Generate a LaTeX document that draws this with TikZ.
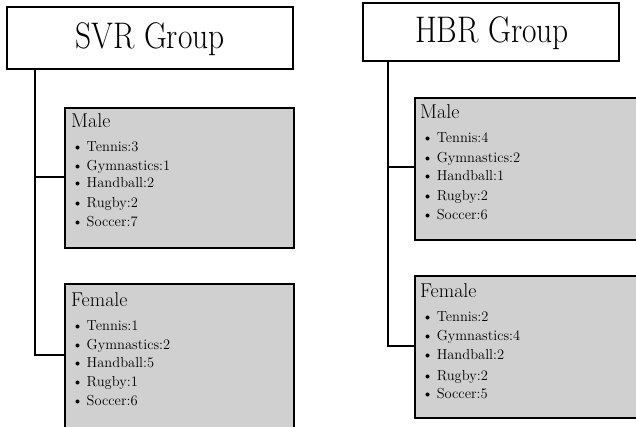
\documentclass[tikz,border=0pt]{standalone}
\usepackage{graphicx}
\begin{document}
\begin{tikzpicture}[x=1pt,y=-1pt,
  titlebox/.style={draw=black,line width=2.4pt,fill=white,inner sep=0pt},
  groupbox/.style={draw=black,line width=2pt,fill=boxgray,inner sep=0pt,anchor=north west},
  conn/.style={draw=black,line width=2pt},
  titletext/.style={inner sep=0pt,font=\fontsize{37}{37}\selectfont},
  headtext/.style={inner sep=0pt,anchor=base west,font=\fontsize{20}{20}\selectfont},
  itemtext/.style={inner sep=0pt,anchor=base west,font=\fontsize{14.5}{14.5}\selectfont}]
\definecolor{boxgray}{HTML}{D0D0D0}
\newcommand{\itm}[1]{\textbullet\hspace{3.5pt}#1}
\useasboundingbox (0,0) rectangle (636,426);
\clip (0,0) rectangle (636,426);
% ---------- SVR ----------
\node[titlebox,minimum width=286pt,minimum height=62pt] (svr) at (150,38) {};
\node[titletext] (svrt) at (150,39) {\scalebox{0.85}[1]{SVR Group}};
\node[groupbox,minimum width=229pt,minimum height=140pt] (sm) at (64,107) {};
\node[groupbox,minimum width=229pt,minimum height=160pt] (sf) at (64,283) {};
\draw[conn] ([xshift=29pt]svr.south west) |- ([yshift=-72pt]sf.north west);
\draw[conn] ([xshift=29pt]svr.south west |- 0,177) -- (sm.west |- 0,177);
\node[headtext] (smh) at (71,127) {Male};
\node[itemtext] (sm1) at (72,151) {\itm{Tennis:3}};
\node[itemtext] (sm2) at (72,170) {\itm{Gymnastics:1}};
\node[itemtext] (sm3) at (72,187) {\itm{Handball:2}};
\node[itemtext] (sm4) at (72,207) {\itm{Rugby:2}};
\node[itemtext] (sm5) at (72,226) {\itm{Soccer:7}};
\node[headtext] (sfh) at (71,306) {Female};
\node[itemtext] (sf1) at (72,330) {\itm{Tennis:1}};
\node[itemtext] (sf2) at (72,349) {\itm{Gymnastics:2}};
\node[itemtext] (sf3) at (72,367) {\itm{Handball:5}};
\node[itemtext] (sf4) at (72,386) {\itm{Rugby:1}};
\node[itemtext] (sf5) at (72,405) {\itm{Soccer:6}};
% ---------- HBR ----------
\node[titlebox,minimum width=256pt,minimum height=58pt] (hbr) at (491,32) {};
\node[titletext] (hbrt) at (492,33) {\scalebox{0.85}[1]{HBR Group}};
\node[groupbox,minimum width=240pt,minimum height=142pt] (hm) at (414,97) {};
\node[groupbox,minimum width=240pt,minimum height=142pt] (hf) at (414,275) {};
\draw[conn] ([xshift=26pt]hbr.south west) |- ([yshift=-71pt]hf.north west);
\draw[conn] ([xshift=26pt]hbr.south west |- 0,167) -- (hm.west |- 0,167);
\node[headtext] (hmh) at (420,118) {Male};
\node[itemtext] (hm1) at (422,142) {\itm{Tennis:4}};
\node[itemtext] (hm2) at (422,162) {\itm{Gymnastics:2}};
\node[itemtext] (hm3) at (422,180) {\itm{Handball:1}};
\node[itemtext] (hm4) at (422,200) {\itm{Rugby:2}};
\node[itemtext] (hm5) at (422,219) {\itm{Soccer:6}};
\node[headtext] (hfh) at (420,297) {Female};
\node[itemtext] (hf1) at (422,321) {\itm{Tennis:2}};
\node[itemtext] (hf2) at (422,340) {\itm{Gymnastics:4}};
\node[itemtext] (hf3) at (422,359) {\itm{Handball:2}};
\node[itemtext] (hf4) at (422,380) {\itm{Rugby:2}};
\node[itemtext] (hf5) at (422,398) {\itm{Soccer:5}};
\end{tikzpicture}
\end{document}
